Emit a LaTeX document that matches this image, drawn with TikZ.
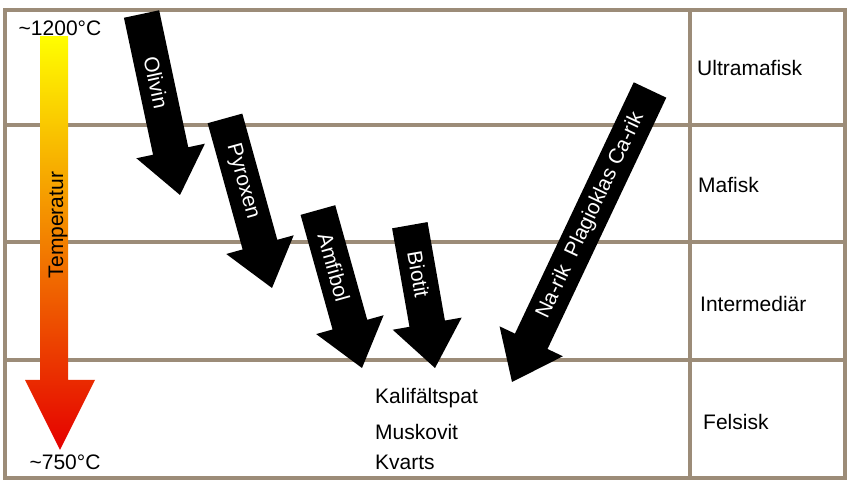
\documentclass[tikz,border=0pt]{standalone}
\usepackage{fontspec}
\setmainfont{Liberation Sans}
\begin{document}
\begin{tikzpicture}[x=1pt,y=1pt,
  frame/.style={draw={rgb,255:red,156;green,140;blue,120},line width=4pt},
  lbl/.style={font=\fontsize{21}{24}\selectfont,inner sep=0pt},
  albl/.style={font=\fontsize{21}{24}\selectfont,text=white,inner sep=0pt}]
\useasboundingbox (0,0) rectangle (854,492);
\fill[white] (0,0) rectangle (854,492);
% frame
\draw[frame] (5,14) rectangle (845,482);
\draw[frame] (5,367) -- (845,367);
\draw[frame] (5,250) -- (845,250);
\draw[frame] (5,132) -- (845,132);
\draw[frame] (690,14) -- (690,482);
% temperature arrow
\shade[top color=yellow, middle color=orange, bottom color=red!90!black]
  (40,457) -- (68,457) -- (68,112) -- (95,112) -- (60,42) -- (25,112) -- (40,112) -- cycle;
\node[lbl,rotate=90] (temp) at (58,267) {Temperatur};
\node[lbl,fill=white,inner sep=1pt] (hot) at (60,464) {\textasciitilde1200°C};
\node[lbl] (cold) at (65,30) {\textasciitilde750°C};
% black arrows
\newcommand\bigarrow[6]{%
 \begin{scope}[shift={(#1)},rotate=#2]
  \fill[black] (-#3,-18) -- (-45,-18) -- (-45,-35) -- (0,0) -- (-45,35) -- (-45,18) -- (-#3,18) -- cycle;
  \node[albl,rotate=#2+#5] (#6) at ({-(#3+45)/2},0) {#4};
 \end{scope}}
\bigarrow{180,297}{-78}{185}{Olivin}{0}{ol}
\bigarrow{272,204}{-74.5}{176}{Pyroxen}{0}{py}
\bigarrow{362,124}{-74.4}{164}{Amfibol}{0}{am}
\bigarrow{435,124}{-80}{145}{Biotit}{0}{bi}
\bigarrow{512,110}{-115.3}{323}{Na-rik\ \ Plagioklas Ca-rik}{180}{pl}
% felsic minerals
\node[lbl,anchor=west] (ka) at (375,94) {Kalifältspat};
\node[lbl,anchor=west] (mu) at (375,60) {Muskovit};
\node[lbl,anchor=west] (kv) at (375,30) {Kvarts};
% classes
\node[lbl,anchor=west] (um) at (697,424) {Ultramafisk};
\node[lbl,anchor=west] (ma) at (698,307) {Mafisk};
\node[lbl,anchor=west] (in) at (700,188) {Intermediär};
\node[lbl,anchor=west] (fe) at (703,70) {Felsisk};
\end{tikzpicture}
\end{document}
